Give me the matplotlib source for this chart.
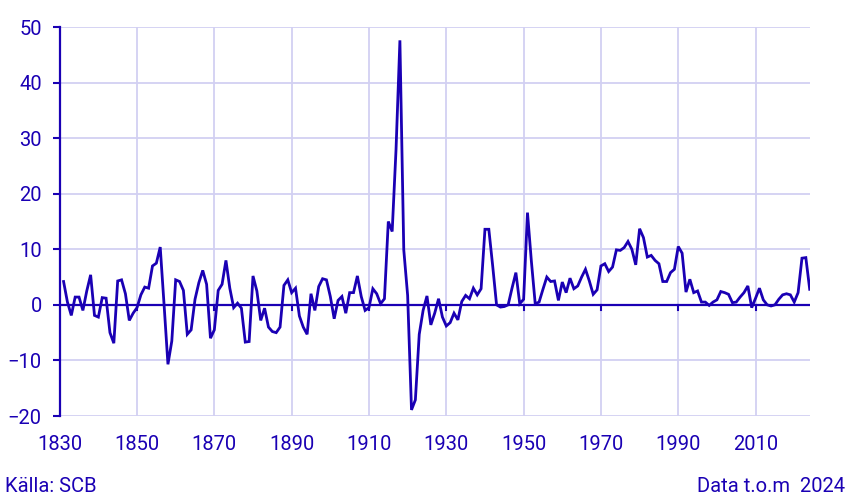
import matplotlib
matplotlib.use("Agg")
import matplotlib.pyplot as plt
import numpy as np

years = list(range(1831, 2025))
values = [
    4.2, 0.5, -1.9, 1.4, 1.4, -1.0, 2.5, 5.4, -1.9, -2.2,
    1.3, 1.2, -5.0, -6.9, 4.3, 4.5, 2.0, -2.8, -1.5, -0.5,
    1.8, 3.2, 3.0, 7.0, 7.5, 10.4, 0.0, -10.7, -6.5, 4.5,
    4.2, 2.6, -5.3, -4.5, 1.0, 4.0, 6.2, 3.7, -6.0, -4.5,
    2.6, 3.7, 8.0, 3.0, -0.5, 0.3, -0.6, -6.7, -6.6, 5.2,
    2.5, -2.8, -0.6, -4.0, -4.8, -5.0, -4.0, 3.5, 4.5, 2.2,
    3.0, -2.0, -4.0, -5.3, 2.0, -1.0, 3.3, 4.7, 4.5, 1.5,
    -2.5, 0.8, 1.5, -1.5, 2.2, 2.2, 5.2, 1.5, -1.0, -0.5,
    2.9, 2.0, 0.2, 1.1, 15.0, 13.2, 28.0, 47.6, 9.9, 1.7,
    -18.9, -17.1, -5.3, -1.0, 1.6, -3.6, -1.5, 1.1, -2.2, -3.8,
    -3.2, -1.5, -2.7, 0.6, 1.7, 1.1, 3.0, 1.8, 2.9, 13.6,
    13.6, 7.0, 0.0, -0.4, -0.3, 0.0, 3.0, 5.8, 0.2, 1.0,
    16.6, 7.9, 0.2, 0.5, 2.8, 5.0, 4.2, 4.3, 0.8, 4.1,
    2.2, 4.8, 2.9, 3.4, 5.0, 6.4, 4.3, 1.9, 2.7, 7.0,
    7.4, 6.0, 6.8, 9.9, 9.8, 10.3, 11.4, 10.0, 7.2, 13.7,
    12.1, 8.6, 8.9, 8.0, 7.4, 4.2, 4.2, 5.8, 6.4, 10.5,
    9.3, 2.3, 4.6, 2.2, 2.5, 0.5, 0.5, -0.1, 0.5, 0.9,
    2.4, 2.2, 1.9, 0.4, 0.5, 1.4, 2.2, 3.4, -0.5, 1.2,
    3.0, 0.9, 0.0, -0.2, 0.0, 1.0, 1.8, 2.0, 1.8, 0.5,
    2.2, 8.4, 8.5, 2.8,
]
x_ticks = [1830, 1850, 1870, 1890, 1910, 1930, 1950, 1970, 1990, 2010]
y_ticks = [-20, -10, 0, 10, 20, 30, 40, 50]
source_text = "Källa: SCB"
data_text = "Data t.o.m  2024"

BLUE = "#1a00b4"
GRID = "#d2d0f2"
plt.rcParams["font.family"] = "Roboto"

fig = plt.figure(figsize=(8.51, 5.01), dpi=100)
ax = fig.add_axes([59.7/851, 85/501, 750/851, 389/501])
ax.plot(years, values, color=BLUE, lw=2.0, zorder=3, solid_joinstyle="miter")
ax.axhline(0, color=BLUE, lw=1.6, zorder=2)
ax.set_xlim(1830, 2024)
ax.set_ylim(-20, 50)
ax.set_xticks(x_ticks)
ax.set_yticks(y_ticks)
ax.grid(True, color=GRID, lw=1.3, zorder=0)
for s in ["top", "right", "bottom"]:
    ax.spines[s].set_visible(False)
ax.spines["left"].set_color(BLUE)
ax.spines["left"].set_linewidth(1.6)
ax.tick_params(axis="y", colors=BLUE, labelsize=14.5, length=5, width=1.5, pad=8)
ax.tick_params(axis="x", colors=BLUE, labelsize=14.5, length=0, pad=14)
# small tick marks below the zero line
for xt in x_ticks[1:]:
    ax.plot([xt, xt], [0, -1.0], color=BLUE, lw=1.5, zorder=3, clip_on=False)
fig.text(5/851, 1-487/501, source_text, color=BLUE, fontsize=14.5, va="center", ha="left")
fig.text(845/851, 1-487/501, data_text, color=BLUE, fontsize=14.5, va="center", ha="right")
fig.savefig("out.png", dpi=100)
